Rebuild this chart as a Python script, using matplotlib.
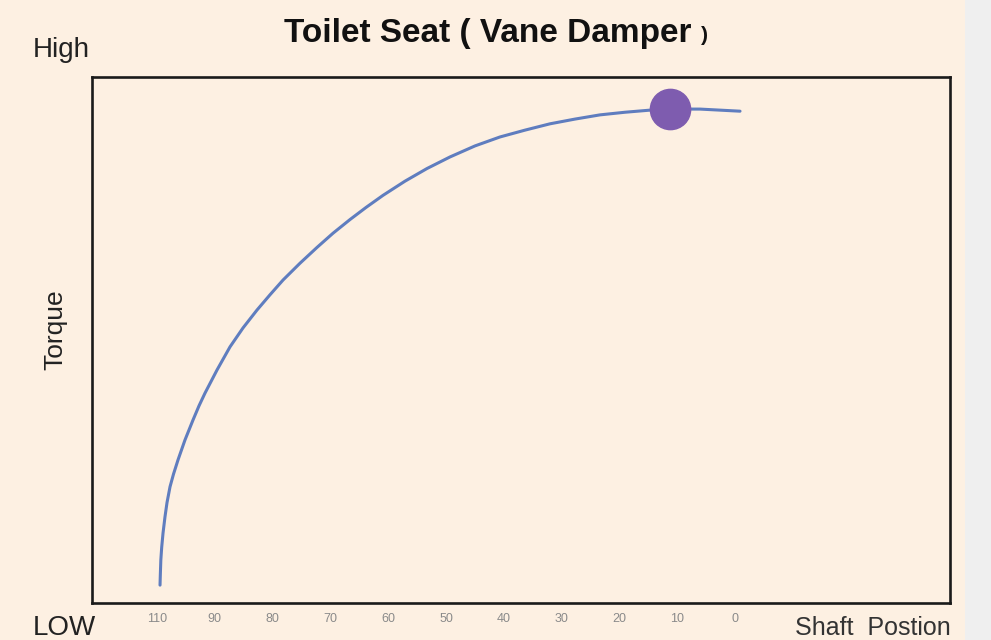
import matplotlib
matplotlib.use("Agg")
import matplotlib.pyplot as plt

# shaft position tick labels (evenly spaced, as in the original)
tick_labels = ["110", "90", "80", "70", "60", "50", "40", "30", "20", "10", "0"]

# torque curve (x in tick-slot units, y in 0-100)
curve_x = [0.052, 0.057, 0.066, 0.081, 0.104, 0.138, 0.173, 0.225, 0.285,
           0.363, 0.484, 0.623, 0.727, 0.830, 1.038, 1.263, 1.488, 1.730,
           1.955, 2.180, 2.474, 2.768, 3.045, 3.339, 3.616, 3.910, 4.291,
           4.671, 5.069, 5.502, 5.934, 6.367, 6.799, 7.232, 7.664, 8.097,
           8.529, 8.875, 9.394, 10.087]
curve_y = [3.4, 5.3, 8.2, 10.6, 13.3, 16.4, 19.1, 22.1, 24.5,
           27.2, 31.0, 34.8, 37.5, 39.9, 44.3, 48.7, 52.3, 55.7,
           58.6, 61.4, 64.6, 67.6, 70.3, 72.9, 75.2, 77.5, 80.2,
           82.6, 84.8, 86.9, 88.6, 89.9, 91.1, 92.0, 92.8, 93.3,
           93.7, 93.9, 93.9, 93.5]

dot_x = [8.875]
dot_y = [94.0]

bg = "#fdf0e2"
sans = ["Liberation Sans", "DejaVu Sans"]

fig = plt.figure(figsize=(9.91, 6.40), dpi=100)
fig.patch.set_facecolor(bg)
# grey strip on the right side of the screenshot
fig.patches.append(plt.Rectangle((965 / 991, 0), 1, 1, transform=fig.transFigure,
                                 facecolor="#efefef", edgecolor="none", zorder=0))

ax = fig.add_axes([92 / 991, 1 - 603 / 640, (950 - 92) / 991, (603 - 77) / 640])
ax.set_facecolor(bg)

ax.plot(curve_x, curve_y, color="#5f7dbf", lw=2.2, solid_capstyle="round",
        solid_joinstyle="round", zorder=2)
ax.plot(dot_x, dot_y, "o", color="#7e5caf", markersize=29, zorder=3)

ax.set_xlim(-1.125, 13.72)
ax.set_ylim(0, 100)
ax.set_xticks(range(len(tick_labels)))
ax.set_xticklabels(tick_labels, fontsize=9, color="#8a8a8a", family=sans)
ax.tick_params(axis="x", length=0, pad=7)
ax.set_yticks([])
for s in ax.spines.values():
    s.set_linewidth(1.9)
    s.set_color("#1a1a1a")

fig.text(284 / 991, 1 - 42 / 640, "Toilet Seat ( Vane Damper", ha="left", va="baseline",
         fontsize=24, fontweight="bold", family=sans, color="#111111")
fig.text(701 / 991, 1 - 41 / 640, ")", ha="left", va="baseline",
         fontsize=15, fontweight="bold", family=sans, color="#111111")
fig.text(33 / 991, 1 - 57 / 640, "High", ha="left", va="baseline", fontsize=20,
         family=sans, color="#222222")
fig.text(33 / 991, 1 - 635 / 640, "LOW", ha="left", va="baseline", fontsize=20,
         family=sans, color="#222222")
fig.text(795 / 991, 1 - 635 / 640, "Shaft  Postion", ha="left", va="baseline", fontsize=18,
         family=sans, color="#333333")
fig.text(55 / 991, 1 - 330 / 640, "Torque", ha="center", va="center", rotation=90,
         fontsize=19, family=sans, color="#222222")

fig.savefig("out.png", dpi=100, facecolor=fig.get_facecolor())
